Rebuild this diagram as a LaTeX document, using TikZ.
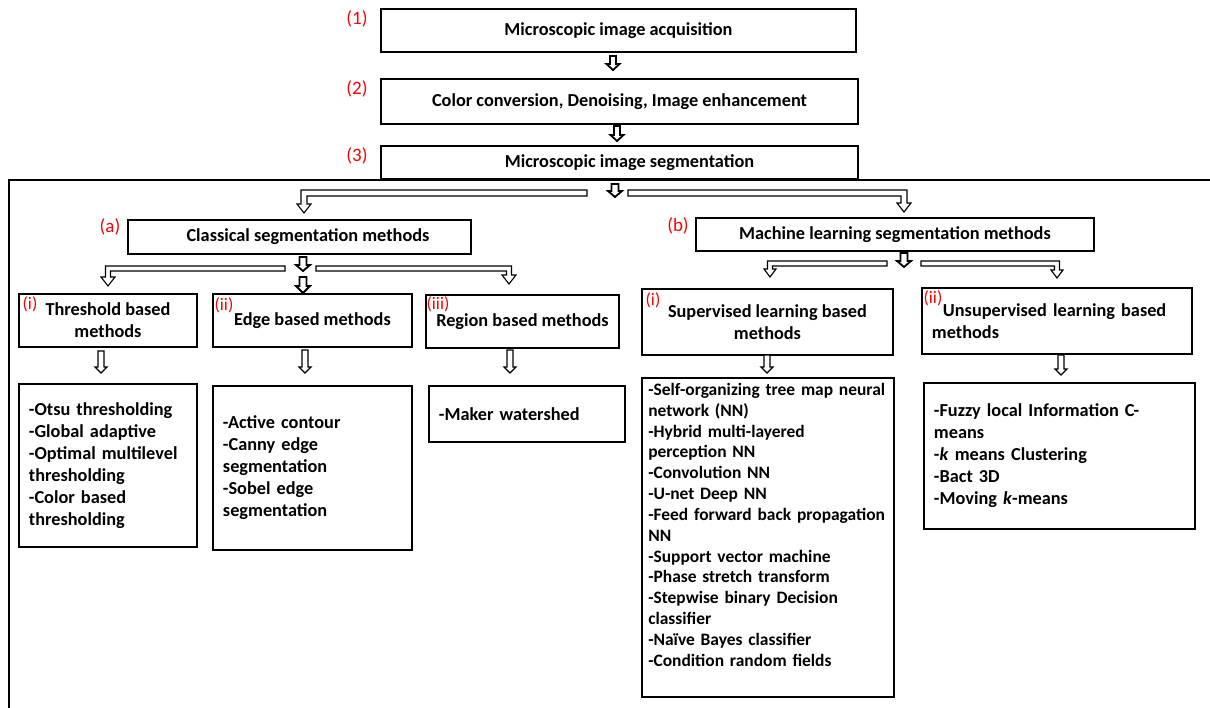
\documentclass[tikz,border=0pt]{standalone}
\usepackage{fontspec}
\setmainfont{Carlito}
\newlength\pxu
\setlength\pxu{0.025cm}

% hollow block arrow pointing down: [style]{x}{top y}{tip y}{shaft half width}{head half width}{head length}
\newcommand\blockarrow[7][]{%
  \draw[flow,#1] (#2-#5,#3) -- (#2+#5,#3) -- (#2+#5,#4-#7) -- (#2+#6,#4-#7)
    -- (#2,#4) -- (#2-#6,#4-#7) -- (#2-#5,#4-#7) -- cycle;}

% hollow L-shaped branch: [style]{bar end x}{shaft x}{bar top y}{thickness}{tip y}{head half width}{head length}
\newcommand\forkarrow[8][]{%
  \pgfmathsetmacro\fs{sign(#3-#2)}%
  \pgfmathsetmacro\fo{#3+\fs*#5/2}%
  \pgfmathsetmacro\fin{#3-\fs*#5/2}%
  \pgfmathsetmacro\fa{#3+\fs*#7}%
  \pgfmathsetmacro\fb{#3-\fs*#7}%
  \pgfmathsetmacro\fy{#6-#8}%
  \pgfmathsetmacro\fz{#4+#5}%
  \draw[flow,#1] (#2,#4) -- (\fo,#4) -- (\fo,\fy) -- (\fa,\fy) -- (#3,#6)
    -- (\fb,\fy) -- (\fin,\fy) -- (\fin,\fz) -- (#2,\fz) -- cycle;}

\begin{document}
\begin{tikzpicture}[x=0.025cm,y=-0.025cm,
  geom/.style n args={4}{at={(#1,#2)}, anchor=north west,
    minimum width=(#3-#1)*0.025cm, minimum height=(#4-#2)*0.025cm},
  titlebox/.style={draw, line width=1.4pt, inner sep=0pt, align=center,
    font=\bfseries\fontsize{13}{15.6}\selectfont},
  listbox/.style={draw, line width=1.4pt, inner ysep=0pt, inner xsep=10\pxu,
    align=left, font=\bfseries\fontsize{13}{15.65}\selectfont},
  tag/.style={text=red, inner sep=0pt, font=\fontsize{12.5}{14}\selectfont},
  bigtag/.style={tag, font=\fontsize{13.5}{15}\selectfont},
  flow/.style={draw, fill=white, line width=0.8pt, line join=miter},
  bold/.style={line width=1.3pt}]

\useasboundingbox (0,0) rectangle (1210,708);

% outer frame around the segmentation branch
\draw[line width=1.6pt] (9,710) -- (9,180) -- (1212,180);

% main pipeline
\node[titlebox, geom={380}{8}{855}{51}] (acq) {Microscopic image acquisition};
\node[titlebox, geom={380}{78}{857}{123}] (pre) {Color conversion, Denoising, Image enhancement};
\node[titlebox, geom={380}{145}{857}{178}] (seg) {\hspace*{20\pxu}Microscopic image segmentation};
\node[bigtag] (t1) at (357,19) {(1)};
\node[bigtag] (t2) at (357,89) {(2)};
\node[bigtag] (t3) at (357,156) {(3)};

% two families of methods
\node[titlebox, geom={127}{219}{470}{253}] (cls) {\hspace*{17\pxu}Classical segmentation methods};
\node[titlebox, geom={695}{217}{1093}{250}] (ml) {Machine learning segmentation methods};
\node[bigtag] (ta) at (110,227) {(a)};
\node[bigtag] (tb) at (678,226) {(b)};

% classical sub-groups
\node[titlebox, geom={18}{293}{196}{346}] (thr) {Threshold based\\methods};
\node[titlebox, geom={212}{293}{411}{346}] (edg) {Edge based methods};
\node[titlebox, geom={425}{294}{618}{347}] (reg) {Region based methods};
\node[tag] (ti) at (30,304) {(i)};
\node[tag] (tii) at (224,305) {(ii)};
\node[tag] (tiii) at (438,304) {(iii)};

% machine learning sub-groups
\node[titlebox, geom={641}{288}{892}{354}] (sup) {Supervised learning based\\methods};
\node[titlebox, geom={921}{287}{1191}{353}, text width=250\pxu, align=left] (uns)
  {\hspace*{11\pxu}Unsupervised learning based\\methods};
\node[tag] (tsi) at (653,300) {(i)};
\node[tag] (tsii) at (933,298) {(ii)};

% method lists
\node[listbox, geom={18}{383}{196}{546}, text width=158\pxu] (thrL)
  {-Otsu thresholding\\-Global adaptive\\-Optimal multilevel\\thresholding\\-Color based\\thresholding};
\node[listbox, geom={212}{385}{411}{549}, text width=179\pxu] (edgL)
  {-Active contour\\-Canny edge\\segmentation\\-Sobel edge\\segmentation};
\node[listbox, geom={428}{385}{624}{441}, text width=176\pxu] (regL)
  {-Maker watershed};
\node[draw, line width=1.4pt, geom={641}{377}{893}{696}] (supL) {};
\node[anchor=north west, inner sep=0pt, text width=240\pxu, align=left,
  font=\bfseries\fontsize{12.4}{14.8}\selectfont] (supT) at (648,383)
  {-Self-organizing tree map neural\\network (NN)\\-Hybrid multi-layered\\perception NN\\-Convolution NN\\-U-net Deep NN\\-Feed forward back propagation\\NN\\-Support vector machine\\-Phase stretch transform\\-Stepwise binary Decision\\classifier\\-Naïve Bayes classifier\\-Condition random fields};
\node[listbox, geom={923}{382}{1194}{528}, text width=251\pxu] (unsL)
  {-Fuzzy local Information C-\\means\\-\textit{k} means Clustering\\-Bact 3D\\-Moving \textit{k}-means};

% arrows of the pipeline
\blockarrow[bold]{613}{56}{70}{3}{6.5}{6}
\blockarrow[bold]{617}{126}{141}{3}{6.5}{6}
\blockarrow[bold]{615}{184}{197}{3.5}{7}{6}
\forkarrow{587}{304}{190}{6}{213}{7}{9}
\forkarrow{628}{904}{190}{6}{212}{7}{9}

% classical branch arrows
\blockarrow[bold]{303}{257}{271}{3.5}{7}{6}
\blockarrow[bold]{303}{277}{293}{3.5}{7}{7}
\forkarrow{285}{108}{266}{5}{286}{7}{9}
\forkarrow{316}{509}{266}{5}{284}{7}{9}

% machine learning branch arrows
\blockarrow[bold]{904}{253}{267}{3.5}{7}{6}
\forkarrow{887}{770}{261}{5}{277}{6}{8}
\forkarrow{921}{1057}{261}{5}{278}{6}{8}

% arrows into the method lists
\blockarrow{101}{351}{373}{3}{6}{6}
\blockarrow{305}{350}{373}{3}{6}{6}
\blockarrow{510}{350}{373}{3}{6}{6}
\blockarrow{767}{355}{373}{3}{6}{6}
\blockarrow{1061}{355}{375}{3}{6}{6}

\end{tikzpicture}
\end{document}
